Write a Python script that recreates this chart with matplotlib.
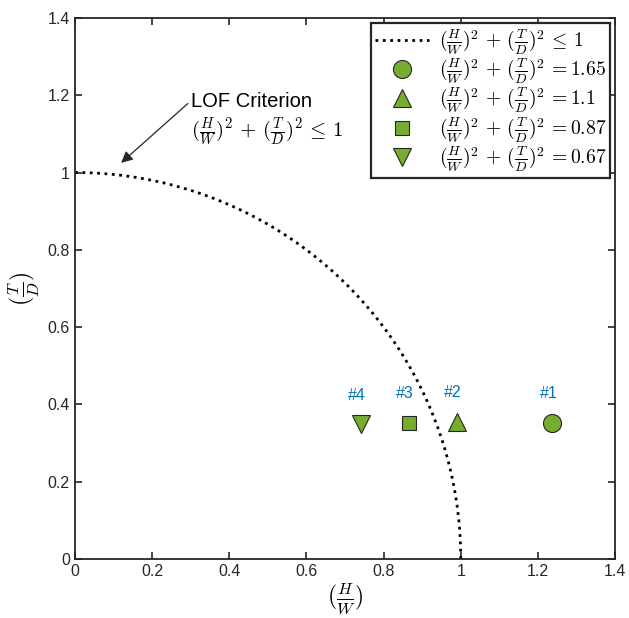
import numpy as np
import matplotlib
matplotlib.use('Agg')
import matplotlib.pyplot as plt

plt.rcParams['font.family'] = ['Liberation Sans', 'DejaVu Sans']
plt.rcParams['mathtext.fontset'] = 'cm'

# measured cases
hw = [1.237, 0.99, 0.865, 0.742]
td = [0.353, 0.355, 0.353, 0.348]
case_labels = ['#1', '#2', '#3', '#4']
markers = ['o', '^', 's', 'v']
sum_labels = ['1.65', '1.1', '0.87', '0.67']

green = '#77AC30'
blue = '#0072BD'
dark = '#262626'

fig = plt.figure(figsize=(6.29, 6.18), dpi=100)
ax = fig.add_axes([0.119, 0.0955, 0.859, 0.8755])

theta = np.linspace(0, np.pi / 2, 300)
ax.plot(np.cos(theta), np.sin(theta), ':', color='k', lw=2,
        label=r'$(\frac{H}{W})^2\,+\,(\frac{T}{D})^2\,\leq\,1$')

for x, y, m, s in zip(hw, td, markers, sum_labels):
    ax.plot(x, y, m, ms=13 if m != 's' else 10, markerfacecolor=green,
            markeredgecolor=dark, markeredgewidth=0.8, linestyle='none',
            label=r'$(\frac{H}{W})^2\,+\,(\frac{T}{D})^2\,=$' + r'$' + s + '$')

for x, y, t in zip(hw, td, case_labels):
    ax.text(x - 0.01, y + 0.075, t, color=blue, fontsize=11.5, ha='center', va='center')

ax.annotate('LOF Criterion', xy=(0.12, 1.025), xytext=(0.3, 1.185),
            fontsize=14.5, ha='left', va='center',
            arrowprops=dict(arrowstyle='-|>', color=dark, lw=0.9, mutation_scale=17,
                            shrinkA=0, shrinkB=0, relpos=(0, 0.5)))
ax.text(0.3, 1.105, r'$(\frac{H}{W})^2\,+\,(\frac{T}{D})^2\,\leq\,1$', fontsize=15,
        ha='left', va='center')

ax.set_xlim(0, 1.4)
ax.set_ylim(0, 1.4)
ticks = np.arange(0, 1.41, 0.2)
ax.set_xticks(ticks)
ax.set_yticks(ticks)
ax.set_xticklabels(['0', '0.2', '0.4', '0.6', '0.8', '1', '1.2', '1.4'])
ax.set_yticklabels(['0', '0.2', '0.4', '0.6', '0.8', '1', '1.2', '1.4'])
ax.tick_params(direction='in', top=True, right=True, labelsize=11.5, length=5,
               width=1.2, colors=dark)
for sp in ax.spines.values():
    sp.set_linewidth(1.3)
    sp.set_color(dark)

ax.set_xlabel(r'$(\frac{H}{W})$', fontsize=17, labelpad=2)
ax.set_ylabel(r'$(\frac{T}{D})$', fontsize=17)

leg = ax.legend(loc='upper right', fontsize=14.2, fancybox=False, edgecolor=dark,
                framealpha=1, handlelength=2.7, borderaxespad=0.25, borderpad=0.2,
                labelspacing=-0.02, handletextpad=0.5, numpoints=1)
leg.get_frame().set_linewidth(1.6)

fig.savefig('out.png', dpi=100)
